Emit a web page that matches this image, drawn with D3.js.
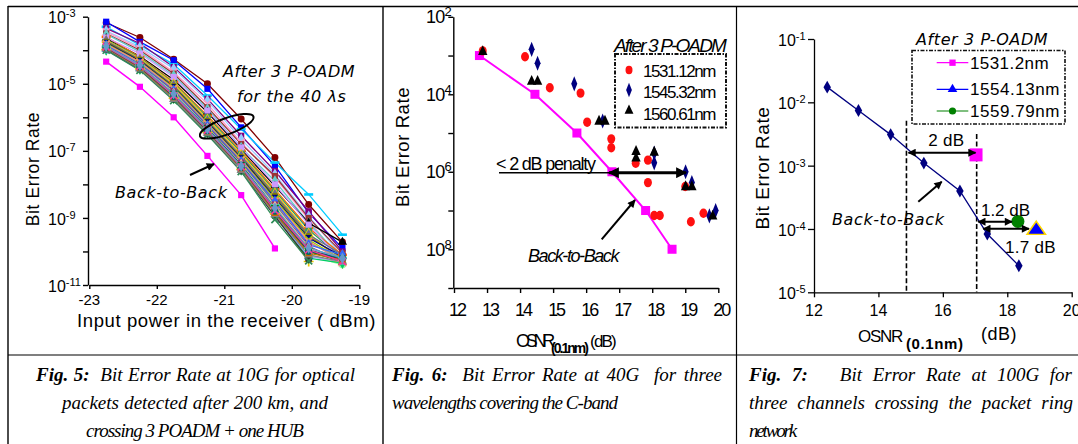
<!DOCTYPE html>
<html><head><meta charset="utf-8">
<script src="https://cdn.jsdelivr.net/npm/d3@7"></script>
<style>body{margin:0;background:#fff}svg{display:block}</style>
</head><body><svg id="c" width="1078" height="444"></svg>
<script>
// ---------------- DATA ----------------
// Fig 5 : 10G, 40 channels after 3 P-OADM + back-to-back (values are log10(BER))
const p1X = [-22.75,-22.25,-21.75,-21.25,-20.75,-20.25,-19.75,-19.25];
const p1B2B = [-4.34,-5.09,-6.0,-7.15,-8.32,-9.91];
const p1Curves = [
 [-3.18,-3.62,-4.27,-5.0,-6.05,-7.2,-8.6,-9.72],
 [-3.15,-3.75,-4.3,-5.15,-6.3,-7.45,-8.85,-9.9],
 [-3.3,-3.85,-4.42,-5.35,-6.35,-7.35,-8.3,-9.5],
 [-3.35,-3.8,-4.5,-5.45,-6.55,-7.6,-8.8,-10.0],
 [-3.42,-3.9,-4.55,-5.5,-6.65,-7.7,-8.95,-10.15],
 [-3.45,-3.95,-4.65,-5.6,-6.75,-7.8,-9.05,-10.35],
 [-3.5,-4.0,-4.7,-5.7,-6.8,-7.75,-9.0,-10.05],
 [-3.52,-4.05,-4.75,-5.75,-6.9,-7.9,-9.15,-10.2],
 [-3.65,-4.18,-4.88,-5.85,-6.95,-8.05,-9.15,-9.72],
 [-3.6,-4.2,-4.95,-5.95,-7.0,-8.15,-9.3,-10.1],
 [-3.68,-4.22,-4.98,-6.0,-7.05,-8.2,-9.35,-10.2],
 [-3.62,-4.1,-4.8,-5.8,-6.9,-8.0,-9.2,-10.3],
 [-3.7,-4.25,-5.0,-6.05,-7.1,-8.25,-9.45,-10.35],
 [-3.72,-4.28,-5.05,-6.1,-7.15,-8.3,-9.5,-10.1],
 [-3.75,-4.3,-5.08,-6.12,-7.2,-8.35,-9.55,-10.2],
 [-3.78,-4.32,-5.1,-6.15,-7.22,-8.4,-9.6,-10.15],
 [-3.8,-4.35,-5.12,-6.18,-7.25,-8.45,-9.65,-10.25],
 [-3.82,-4.36,-5.15,-6.2,-7.28,-8.5,-9.7,-10.3],
 [-3.85,-4.4,-5.18,-6.22,-7.3,-8.55,-9.75,-10.2],
 [-3.86,-4.42,-5.2,-6.25,-7.32,-8.5,-9.8,-10.1],
 [-3.88,-4.44,-5.22,-6.28,-7.35,-8.6,-9.85,-10.3],
 [-3.9,-4.45,-5.25,-6.3,-7.38,-8.62,-9.9,-10.2],
 [-3.9,-4.46,-5.27,-6.32,-7.4,-8.65,-9.88,-10.35],
 [-3.92,-4.48,-5.3,-6.33,-7.42,-8.7,-9.95,-10.25],
 [-3.93,-4.5,-5.32,-6.35,-7.45,-8.72,-10.0,-10.3],
 [-3.95,-4.5,-5.35,-6.37,-7.47,-8.75,-10.05,null],
 [-3.95,-4.52,-5.36,-6.38,-7.48,-8.78,-10.1,-10.35],
 [-3.96,-4.53,-5.38,-6.4,-7.5,-8.8,-10.15,null],
 [-3.97,-4.54,-5.4,-6.42,-7.52,-8.82,-10.1,-10.4],
 [-3.98,-4.55,-5.42,-6.44,-7.55,-8.85,-10.2,null],
 [-3.98,-4.56,-5.43,-6.45,-7.55,-8.88,-10.3,null],
 [-3.99,-4.57,-5.44,-6.46,-7.57,-8.9,-10.2,-10.35],
 [-4.0,-4.58,-5.45,-6.48,-7.58,-8.92,-10.15,-10.3],
 [-3.97,-4.57,-5.47,-6.5,-7.6,-8.95,-10.25,null],
 [-4.0,-4.6,-5.5,-6.52,-7.62,-9.05,-10.28,null],
 [-3.95,-4.55,-5.46,-6.47,-7.58,-8.9,-10.1,-10.3],
 [-3.93,-4.52,-5.4,-6.42,-7.52,-8.85,-10.05,-10.25],
 [-3.92,-4.5,-5.38,-6.4,-7.5,-8.8,-10.0,-10.2],
 [-3.9,-4.48,-5.35,-6.38,-7.48,-8.78,-9.95,-10.3],
 [-3.88,-4.45,-5.3,-6.35,-7.45,-8.7,-9.9,-10.2]
];
const p1Colors = ["#800000","#0000FF","#00CCFF","#800080","#99CCFF","#FF99CC","#993333","#66CCCC",
 "#000000","#FF6600","#339966","#CC99FF","#FFCC00","#666699","#808000","#000080","#99CC00","#FF8080",
 "#969696","#3366FF","#993366","#33CCCC","#FFCC99","#003366","#008000","#CC0000","#FF9900","#0066CC",
 "#99FF99","#663300","#E6C800","#00CC66","#9999FF","#333333","#2E8B57","#808080","#CC6600","#006666",
 "#FF3399","#6699CC"];
const p1Markers = ["circle","square","bar","square","diamond","times","square","diamond","triangle","bar",
 "circle","square","triangle","diamond","circle","square","cross","times","circle","diamond","square","bar",
 "triangle","circle","cross","square","diamond","triangle","circle","square","plus","diamond","square",
 "circle","cross","triangle","square","circle","times","diamond"];
const p1XTicks = [-23,-22,-21,-20,-19];
const p1YTicks = [-3,-4,-5,-6,-7,-8,-9,-10,-11];
const p1YLabels = [-3,-5,-7,-9,-11];

// Fig 6 : 40G, three wavelengths
const p2B2BX = [12.77,14.45,15.72,16.78,17.8,18.6];
const p2B2BY = [-3,-4,-5,-6,-7,-8];
const p2RedX = [12.87,14.15,14.9,15.83,16.03,16.76,16.76,17.5,17.87,17.87,18.06,18.23,19.0,19.17,19.55];
const p2RedY = [-2.88,-3.03,-3.83,-3.97,-4.72,-5.15,-5.38,-5.78,-5.7,-6.28,-7.13,-7.13,-6.38,-7.29,-7.07];
const p2BlueX = [14.35,14.53,15.64,16.5,18.06,18.06,19.01,19.2,19.73,19.92];
const p2BlueY = [-2.84,-3.2,-3.73,-4.69,-5.52,-5.77,-6.0,-6.28,-7.14,-7.0];
const p2BlackX = [12.87,14.35,14.53,16.39,16.57,17.51,17.51,18.06,19.01,19.2,19.83];
const p2BlackY = [-2.9,-3.67,-3.67,-4.7,-4.7,-5.48,-5.65,-5.5,-6.39,-6.39,-7.15];
const p2XTicks = [12,13,14,15,16,17,18,19,20];
const p2YTicks = [-2,-3,-4,-5,-6,-7,-8,-9];
const p2YLabels = [2,4,6,8];
const p2Legend = ["1531.12nm","1545.32nm","1560.61nm"];

// Fig 7 : 100G
const p3B2BX = [12.41,13.38,14.38,15.41,16.53,17.38,18.36];
const p3B2BY = [-1.76,-2.13,-2.51,-2.96,-3.4,-4.08,-4.58];
const p3Ch = ["1531.2nm","1554.13nm","1559.79nm"];
const p3ChX = [17.03,18.9,18.33];
const p3ChY = [-2.83,-4.0,-3.88];
const p3XTicks = [12,14,16,18,20];
const p3YTicks = [-1,-2,-3,-4,-5];

// ---------------- DRAW ----------------
const svg = d3.select("#c");
const FONT = "'Liberation Sans', Arial, sans-serif";
const SERIF = "'Liberation Serif', 'Times New Roman', serif";
const VERD = "'DejaVu Sans', Verdana, sans-serif";
const P = v => Math.pow(10, v);

function hasFont(name) {
  const t = svg.append("text").attr("font-size",20).attr("font-family",`'${name}', monospace`).text("OSNR 1531.12nm abcdefg");
  const w1 = t.node().getComputedTextLength();
  t.attr("font-family","monospace");
  const w2 = t.node().getComputedTextLength();
  t.remove();
  return Math.abs(w1 - w2) > 1;
}
const NARROW = hasFont("Liberation Sans Narrow") ? "'Liberation Sans Narrow', 'Liberation Sans', sans-serif" : FONT;

const defs = svg.append("defs");
function mk(id, w, h) {
  defs.append("marker").attr("id",id).attr("viewBox","0 0 10 10").attr("refX",9).attr("refY",5)
    .attr("markerWidth",w).attr("markerHeight",h).attr("markerUnits","userSpaceOnUse")
    .attr("orient","auto-start-reverse").append("path").attr("d","M0,0L10,5L0,10z").attr("fill","#000");
}
mk("ah",9,8); mk("ahb",12,11);

// place text; narrow with letter-spacing; widen (justify) with word-spacing only for captions
function place(t, x, y, o) {
  let tr = `translate(${x},${y})`;
  if (o.rotate) tr += ` rotate(${o.rotate})`;
  t.attr("transform", tr);
  if (o.len) {
    const w = t.node().getComputedTextLength();
    const s = t.text();
    const n = s.length, sp = (s.match(/ /g) || []).length;
    if (w <= 0 || n < 2) return;
    if (o.len < w) t.attr("letter-spacing", ((o.len - w) / n).toFixed(2));
    else if (o.justify && sp > 0) t.attr("word-spacing", ((o.len - w) / sp).toFixed(2));
    else if (o.len - w > 0) t.attr("letter-spacing", Math.min(0.6, (o.len - w) / n).toFixed(2));
  }
}
function txt(g, x, y, s, o={}) {
  const t = g.append("text").attr("x",0).attr("y",0)
    .attr("font-family", o.family||FONT).attr("font-size", o.size||16)
    .attr("text-anchor", o.anchor||"start").attr("fill", o.fill||"#000");
  if (o.style) t.attr("font-style", o.style);
  if (o.weight) t.attr("font-weight", o.weight);
  t.text(s);
  place(t, x, y, o);
  return t;
}
function powLabel(g, x, y, exp, o) {
  const t = g.append("text").attr("x",0).attr("y",0).attr("font-family",o.family||FONT)
    .attr("font-size",o.size).attr("text-anchor","start");
  t.append("tspan").text("10");
  t.append("tspan").attr("font-size",o.sup).attr("dy",o.dy).text(exp);
  place(t, x, y, o);
}
function arrow(g, x1, y1, x2, y2, w, both, big) {
  const l = g.append("line").attr("x1",x1).attr("y1",y1).attr("x2",x2).attr("y2",y2)
    .attr("stroke","#000").attr("stroke-width",w).attr("marker-end",`url(#${big?"ahb":"ah"})`);
  if (both) l.attr("marker-start",`url(#${big?"ahb":"ah"})`);
}
const symMap = {circle:d3.symbolCircle, square:d3.symbolSquare, diamond:d3.symbolDiamond,
  triangle:d3.symbolTriangle, times:d3.symbolTimes, cross:d3.symbolTimes, plus:d3.symbolPlus};
function marker(g, type, x, y, color, size) {
  if (type === "bar") {
    g.append("rect").attr("x",x-4.5).attr("y",y-1.3).attr("width",9).attr("height",2.6).attr("fill",color);
    return;
  }
  const stroke = (type==="times"||type==="cross"||type==="plus");
  const p = g.append("path").attr("transform",`translate(${x},${y})`)
    .attr("d", d3.symbol().type(symMap[type]).size(stroke?size*0.9:size)());
  if (stroke) p.attr("fill","none").attr("stroke",color).attr("stroke-width",1.7);
  else p.attr("fill",color);
}

// ---- frame ----
const frame = svg.append("g").attr("stroke","#000");
frame.append("line").attr("x1",8).attr("x2",1078).attr("y1",6.5).attr("y2",6.5).attr("stroke-width",1.6);
frame.append("line").attr("x1",8).attr("x2",8).attr("y1",6).attr("y2",444).attr("stroke-width",1.4);
frame.append("line").attr("x1",383).attr("x2",383).attr("y1",6).attr("y2",444).attr("stroke-width",1.4);
frame.append("line").attr("x1",736.5).attr("x2",736.5).attr("y1",6).attr("y2",444).attr("stroke-width",1.2);
frame.append("line").attr("x1",8).attr("x2",1078).attr("y1",355).attr("y2",355).attr("stroke-width",1.2);

// ================= PANEL 1 =================
{
  const g = svg.append("g");
  const x = d3.scaleLinear().domain([-23,-19]).range([89.3,359.3]);
  const y = d3.scaleLog().domain([1e-11,1e-3]).range([285,16.7]);
  const ax = g.append("g").attr("transform","translate(88,0)")
    .call(d3.axisLeft(y).tickValues(p1YTicks.map(P)).tickFormat("").tickSize(5).tickSizeOuter(0));
  const bx = g.append("g").attr("transform","translate(0,285)")
    .call(d3.axisBottom(x).tickValues(p1XTicks).tickFormat("").tickSize(4).tickSizeOuter(0));
  [ax,bx].forEach(a=>{a.selectAll("path,line").attr("stroke","#000").attr("stroke-width",1.4);});
  p1YLabels.forEach(e => powLabel(g, 48, y(P(e))+6.6, String(e), {size:16, sup:11, dy:-6}));
  p1XTicks.forEach(v => txt(g, x(v), 305, String(v), {size:15, anchor:"middle"}));
  txt(g, 77, 327, "Input power in the receiver ( dBm)", {size:18.5, len:304});
  txt(g, 39, 169, "Bit Error Rate", {size:17.5, anchor:"middle", rotate:-90, len:115});

  const line = d3.line().defined(d=>d[1]!=null).x(d=>x(d[0])).y(d=>y(P(d[1])));
  p1Curves.forEach((row,i) => {
    const pts = row.map((v,j)=>[p1X[j],v]);
    g.append("path").attr("d",line(pts)).attr("fill","none").attr("stroke",p1Colors[i]).attr("stroke-width",1.3);
  });
  p1Curves.forEach((row,i) => {
    row.forEach((v,j)=>{ if(v!=null) marker(g, p1Markers[i], x(p1X[j]), y(P(v)), p1Colors[i], 38); });
  });
  const b = p1B2B.map((v,j)=>[p1X[j],v]);
  g.append("path").attr("d",line(b)).attr("fill","none").attr("stroke","#FF00FF").attr("stroke-width",1.5);
  b.forEach(d=>marker(g,"square",x(d[0]),y(P(d[1])),"#FF00FF",38));

  txt(g, 223, 77, "After 3 P-OADM", {family:VERD, style:"italic", size:16, len:140});
  txt(g, 237, 102, "for the 40 λs", {family:VERD, style:"italic", size:16, len:118});
  g.append("ellipse").attr("cx",226.7).attr("cy",126.3).attr("rx",28.5).attr("ry",8)
    .attr("transform","rotate(-20,226.7,126.3)").attr("fill","none").attr("stroke","#000").attr("stroke-width",2);
  txt(g, 115, 198, "Back-to-Back", {family:VERD, style:"italic", size:16, len:115});
  arrow(g, 190, 175, 214, 164, 2, false);
}

// ================= PANEL 2 =================
{
  const g = svg.append("g");
  const x = d3.scaleLinear().domain([12,20]).range([454,718.3]);
  const y = d3.scaleLog().domain([1e-9,1e-2]).range([288,16.8]);
  const ax = g.append("g").attr("transform","translate(453.3,0)")
    .call(d3.axisLeft(y).tickValues(p2YTicks.map(P)).tickFormat("").tickSize(5).tickSizeOuter(0));
  const bx = g.append("g").attr("transform","translate(0,288)")
    .call(d3.axisBottom(x).tickValues(p2XTicks).tickFormat("").tickSize(5).tickSizeOuter(0));
  [ax,bx].forEach(a=>{a.selectAll("path,line").attr("stroke","#000").attr("stroke-width",1.4);});
  p2YLabels.forEach(e => powLabel(g, 426, y(P(-e))+6.5, String(e), {family:NARROW, size:18, sup:13, dy:-7, len:25}));
  p2XTicks.forEach(v => txt(g, x(v)+3, 315.5, String(v), {family:NARROW, size:18, anchor:"middle", len:16}));
  txt(g, 409, 147, "Bit Error Rate", {size:18.5, anchor:"middle", rotate:-90, len:120});
  txt(g, 516, 347, "OSNR", {family:NARROW, size:18, len:35});
  txt(g, 551, 353, "(0.1nm)", {family:NARROW, size:14, weight:"bold", len:36});
  txt(g, 590, 347, "(dB)", {family:NARROW, size:17, len:25});

  const line = d3.line().x(d=>x(d[0])).y(d=>y(P(d[1])));
  const b = p2B2BX.map((v,j)=>[v,p2B2BY[j]]);
  g.append("path").attr("d",line(b)).attr("fill","none").attr("stroke","#FF00FF").attr("stroke-width",2);
  b.forEach(d=>g.append("rect").attr("x",x(d[0])-4.5).attr("y",y(P(d[1]))-4.5).attr("width",9).attr("height",9).attr("fill","#FF00FF"));
  p2RedX.forEach((v,j)=>g.append("ellipse").attr("cx",x(v)).attr("cy",y(P(p2RedY[j]))).attr("rx",4).attr("ry",4.7).attr("fill","#FF1010"));
  p2BlueX.forEach((v,j)=>g.append("path").attr("transform",`translate(${x(v)},${y(P(p2BlueY[j]))}) scale(0.8,1.15)`)
     .attr("d",d3.symbol().type(d3.symbolDiamond).size(50)()).attr("fill","#000080"));
  p2BlackX.forEach((v,j)=>g.append("path").attr("transform",`translate(${x(v)},${y(P(p2BlackY[j]))}) scale(0.95,1.15)`)
     .attr("d",d3.symbol().type(d3.symbolTriangle).size(42)()).attr("fill","#000"));

  // legend
  g.append("rect").attr("x",615).attr("y",54).attr("width",111).attr("height",73.5).attr("fill","none")
    .attr("stroke","#111").attr("stroke-width",2).attr("stroke-dasharray","4,1.5,1.5,1.5");
  txt(g, 614, 52, "After 3 P-OADM", {family:NARROW, size:19, style:"italic", len:111});
  const ly = [70,90,110.7];
  g.append("ellipse").attr("cx",629).attr("cy",ly[0]).attr("rx",3.5).attr("ry",4.2).attr("fill","#FF1010");
  g.append("path").attr("transform",`translate(629,${ly[1]}) scale(0.8,1.15)`).attr("d",d3.symbol().type(d3.symbolDiamond).size(45)()).attr("fill","#000080");
  g.append("path").attr("transform",`translate(629,${ly[2]}) scale(0.95,1.15)`).attr("d",d3.symbol().type(d3.symbolTriangle).size(38)()).attr("fill","#000");
  p2Legend.forEach((s,i)=>txt(g, 643, [77,97.5,119.5][i], s, {family:NARROW, size:17, len:72}));

  txt(g, 496, 169.5, "< 2 dB penalty", {family:NARROW, size:18, len:99});
  g.append("line").attr("x1",499).attr("x2",611).attr("y1",172.7).attr("y2",172.7).attr("stroke","#000").attr("stroke-width",1.5);
  arrow(g, 609, 172.7, 686, 172.7, 3, true, true);
  txt(g, 528, 262, "Back-to-Back", {family:NARROW, size:18, style:"italic", len:90});
  arrow(g, 601.7, 239.3, 635, 200, 2, false);
}

// ================= PANEL 3 =================
{
  const g = svg.append("g");
  const x = d3.scaleLinear().domain([12,20]).range([814,1071.7]);
  const y = d3.scaleLog().domain([1e-5,1e-1]).range([292.3,39]);
  const ax = g.append("g").attr("transform","translate(814,0)")
    .call(d3.axisLeft(y).tickValues(p3YTicks.map(P)).tickFormat("").tickSize(6).tickSizeOuter(0));
  const bx = g.append("g").attr("transform","translate(0,292.3)")
    .call(d3.axisBottom(x).tickValues(p3XTicks).tickFormat("").tickSize(5).tickSizeOuter(0));
  [ax,bx].forEach(a=>{a.selectAll("path,line").attr("stroke","#000").attr("stroke-width",1.3);});
  p3YTicks.forEach(e => powLabel(g, 778, y(P(e))+7, String(e), {size:16, sup:11, dy:-6}));
  p3XTicks.forEach(v => txt(g, x(v), 316, String(v), {size:16, anchor:"middle"}));
  txt(g, 769, 168, "Bit Error Rate", {size:19, anchor:"middle", rotate:-90, len:123});
  txt(g, 858, 342, "OSNR", {size:17, len:44});
  txt(g, 906, 349, "(0.1nm)", {size:15, weight:"bold", len:60});
  txt(g, 981, 340, "(dB)", {size:18, len:36});

  [[14.87,120.7],[17.05,134]].forEach(d=>g.append("line").attr("x1",x(d[0])).attr("x2",x(d[0])).attr("y1",d[1]).attr("y2",292.3)
    .attr("stroke","#000").attr("stroke-width",1.6).attr("stroke-dasharray","5,2.5"));

  const line = d3.line().x(d=>x(d[0])).y(d=>y(P(d[1])));
  const b = p3B2BX.map((v,j)=>[v,p3B2BY[j]]);
  g.append("path").attr("d",line(b)).attr("fill","none").attr("stroke","#000080").attr("stroke-width",1.3);
  b.forEach(d=>marker(g,"diamond",x(d[0]),y(P(d[1])),"#000080",48));

  g.append("rect").attr("x",x(p3ChX[0])-6.5).attr("y",y(P(p3ChY[0]))-6.5).attr("width",13).attr("height",13).attr("fill","#FF00FF");
  g.append("circle").attr("cx",x(p3ChX[2])).attr("cy",y(P(p3ChY[2]))).attr("r",6.5).attr("fill","#008000");
  g.append("path").attr("transform",`translate(${x(p3ChX[1])},${y(P(p3ChY[1]))+1}) scale(1.15,0.95)`)
    .attr("d",d3.symbol().type(d3.symbolTriangle).size(110)()).attr("fill","#0000FF").attr("stroke","#FFD700").attr("stroke-width",1.5);

  arrow(g, 908.5, 152.7, 975.5, 152.7, 2, true);
  txt(g, 946.3, 146, "2 dB", {size:17, anchor:"middle", len:36});
  arrow(g, 978.3, 221.7, 1012, 221.7, 2, true);
  txt(g, 981, 215.5, "1.2 dB", {size:17, len:49});
  arrow(g, 983.3, 228.7, 1029, 228.7, 2, true);
  txt(g, 1005, 253, "1.7 dB", {size:17, len:51});
  txt(g, 832, 225, "Back-to-Back", {family:VERD, style:"italic", size:16, len:115});
  arrow(g, 918.3, 201.7, 941.7, 181.7, 2, false);

  txt(g, 916, 45, "After 3 P-OADM", {family:VERD, style:"italic", size:16, len:141});
  g.append("rect").attr("x",912).attr("y",50.5).attr("width",153).attr("height",73.5).attr("fill","none")
    .attr("stroke","#111").attr("stroke-width",1.6).attr("stroke-dasharray","4,1.5,1.5,1.5");
  const cols = ["#FF00FF","#0000FF","#008000"], typ = ["square","triangle","circle"], ry=[62.7,89.3,111];
  p3Ch.forEach((s,i)=>{
    g.append("line").attr("x1",936.7).attr("x2",968.3).attr("y1",ry[i]).attr("y2",ry[i]).attr("stroke",cols[i]).attr("stroke-width",1.2);
    marker(g, typ[i], 952.5, ry[i], cols[i], 40);
    txt(g, 970, ry[i]+6, s, {size:17, len:[79,90,90][i]});
  });
}

// ================= CAPTIONS =================
function caption(x, y, bold, rest, len) {
  const t = svg.append("text").attr("x",0).attr("y",0).attr("font-family",SERIF).attr("font-size",19)
    .attr("font-style","italic").style("white-space","pre");
  if (bold) t.append("tspan").attr("font-weight","bold").text(bold);
  t.append("tspan").text(rest);
  place(t, x, y, {len, justify:true});
}
caption(36, 381, "Fig. 5:", "  Bit Error Rate at 10G for optical", 319);
caption(62, 409, null, "packets detected after 200 km, and", 266);
caption(86, 437, null, "crossing 3 POADM + one HUB", 217);
caption(392, 381, "Fig. 6:", "  Bit Error Rate at 40G  for three", 330);
caption(392, 409, null, "wavelengths covering the C-band", 225);
caption(749, 381, "Fig. 7:", "   Bit Error Rate at 100G for", 323);
caption(749, 409, null, "three channels crossing the packet ring", 324);
caption(749, 437, null, "network", 46);
</script></body></html>
